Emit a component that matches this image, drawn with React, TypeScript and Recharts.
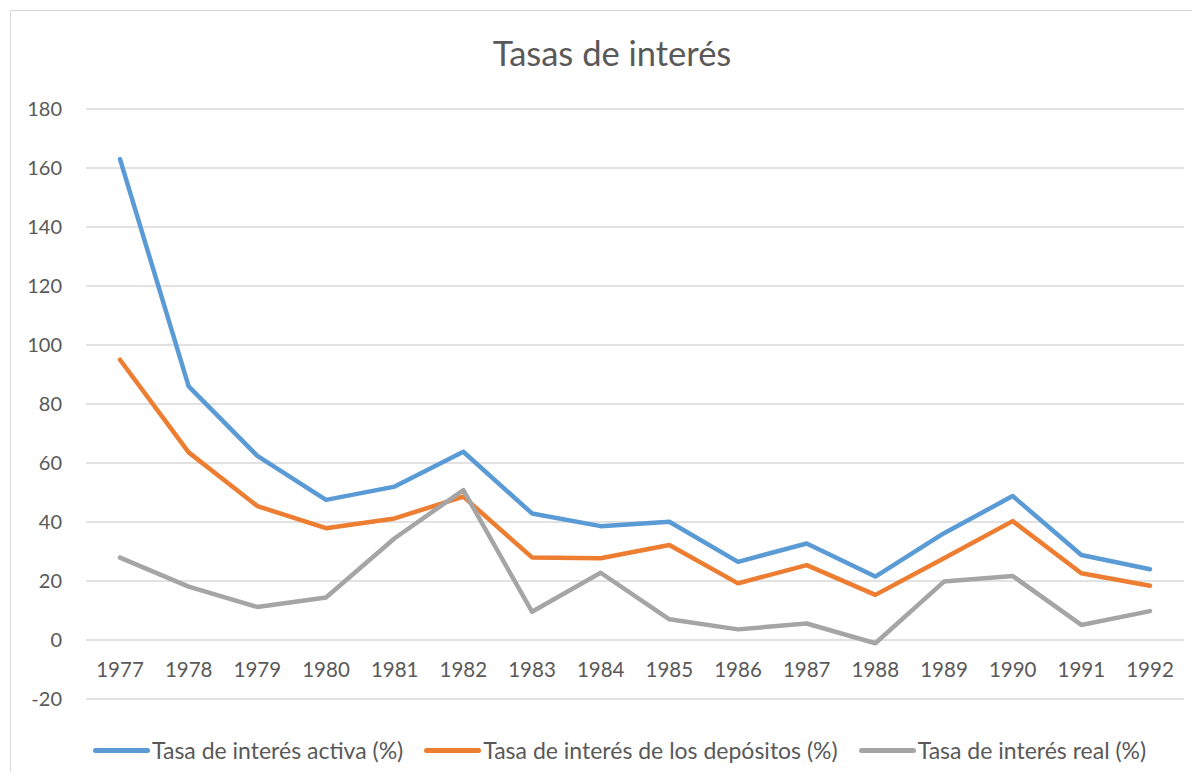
import { LineChart, Line, XAxis, YAxis, CartesianGrid } from "recharts";

const years = ["1977", "1978", "1979", "1980", "1981", "1982", "1983", "1984", "1985", "1986", "1987", "1988", "1989", "1990", "1991", "1992"];
const activa = [163, 86, 62.4, 47.5, 52, 63.8, 42.9, 38.6, 40.1, 26.5, 32.7, 21.5, 36.2, 48.8, 28.8, 24.0];
const depositos = [95, 63.6, 45.4, 37.9, 41.2, 48.6, 28.0, 27.7, 32.2, 19.2, 25.4, 15.3, 27.7, 40.3, 22.6, 18.4];
const real = [27.9, 18.1, 11.2, 14.4, 34.5, 50.8, 9.6, 22.8, 7.0, 3.6, 5.6, -1.1, 19.8, 21.7, 5.1, 9.8];
const yTicks = [-20, 0, 20, 40, 60, 80, 100, 120, 140, 160, 180];

const series = [
  { key: "activa", name: "Tasa de interés activa (%)", color: "#5B9BD5" },
  { key: "depositos", name: "Tasa de interés de los depósitos (%)", color: "#ED7D31" },
  { key: "real", name: "Tasa de interés real (%)", color: "#A5A5A5" },
];

const data = years.map((year, i) => ({
  year,
  activa: activa[i],
  depositos: depositos[i],
  real: real[i],
}));

const FONT = "Lato, 'Open Sans', sans-serif";
const TEXT = "#595959";

// x labels sit just under the zero line, like Excel does
const YearTick = (props: any) => {
  const { x, y, payload } = props;
  return (
    <text x={x} y={y} dy={-30} textAnchor="middle" fill={TEXT} fontSize={20.5} fontFamily={FONT}>
      {payload.value}
    </text>
  );
};

export default function App() {
  return (
    <div style={{ position: "relative", width: 1200, height: 780, margin: -8, background: "#fff", overflow: "hidden" }}>
      <div style={{ position: "absolute", left: 10, top: 10, width: 1186, height: 800, border: "1px solid #d9d9d9", boxSizing: "border-box" }} />
      <div style={{ position: "absolute", left: 0, top: 32, width: 1224, textAlign: "center", fontFamily: FONT, fontSize: 34.5, color: TEXT }}>
        Tasas de interés
      </div>
      <div style={{ position: "absolute", left: 0, top: 0 }}>
        <LineChart width={1200} height={780} data={data} margin={{ top: 109, right: 16, left: 0, bottom: 51 }}>
          <CartesianGrid vertical={false} stroke="#d9d9d9" strokeWidth={1.5} />
          <XAxis dataKey="year" height={30} axisLine={false} tickLine={false} tick={<YearTick />} padding={{ left: 34, right: 34 }} interval={0} />
          <YAxis
            width={86}
            domain={[-20, 180]}
            ticks={yTicks}
            axisLine={false}
            tickLine={false}
            tickMargin={18}
            tick={{ fill: TEXT, fontSize: 20, fontFamily: FONT }}
          />
          {series.map((s) => (
            <Line
              key={s.key}
              type="linear"
              dataKey={s.key}
              name={s.name}
              stroke={s.color}
              strokeWidth={4.5}
              strokeLinecap="round"
              strokeLinejoin="round"
              dot={false}
              activeDot={false}
              isAnimationActive={false}
            />
          ))}
        </LineChart>
      </div>
      <div style={{ position: "absolute", left: 93, top: 736, display: "flex", fontFamily: FONT, fontSize: 23, color: TEXT }}>
        {series.map((s) => (
          <div key={s.key} style={{ display: "flex", alignItems: "center", marginRight: 21 }}>
            <span style={{ display: "inline-block", width: 57, height: 5, background: s.color, borderRadius: 3, marginRight: 2 }} />
            <span>{s.name}</span>
          </div>
        ))}
      </div>
    </div>
  );
}
